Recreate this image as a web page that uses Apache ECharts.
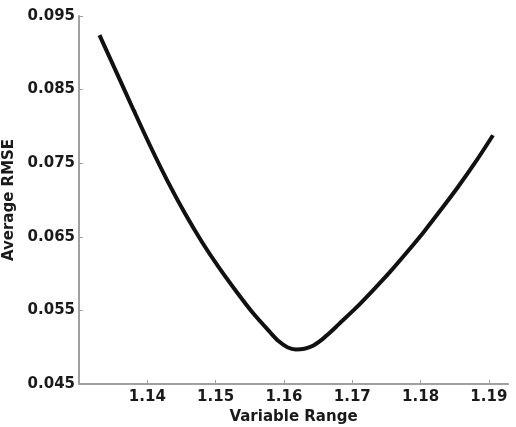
<!DOCTYPE html>
<html>
<head>
<meta charset="utf-8">
<script src="https://cdn.jsdelivr.net/npm/echarts@6/dist/echarts.min.js"></script>
<style>html,body{margin:0;padding:0;background:#fff}#c{width:516px;height:427px}</style>
</head>
<body>
<div id="c"></div>
<script>
var xValues = [1.1330, 1.1355, 1.1380, 1.1405, 1.1430, 1.1455, 1.1480, 1.1505, 1.1530, 1.1555, 1.1580, 1.15925, 1.1605, 1.16175, 1.1630, 1.16425, 1.1655, 1.16675, 1.1680, 1.1705, 1.1730, 1.1755, 1.1780, 1.1805, 1.1830, 1.1855, 1.1880, 1.1906];
var rmseValues = [0.0924, 0.0873, 0.0822, 0.0772, 0.0725, 0.0682, 0.0643, 0.0608, 0.0576, 0.0546, 0.0520, 0.0508, 0.0500, 0.0497, 0.0498, 0.0502, 0.0510, 0.0520, 0.0531, 0.0553, 0.0577, 0.0602, 0.0629, 0.0657, 0.0687, 0.0718, 0.0751, 0.0788];
var xTicks = [1.14, 1.15, 1.16, 1.17, 1.18, 1.19];
var yTicks = [0.045, 0.055, 0.065, 0.075, 0.085, 0.095];

var data = xValues.map(function (x, i) { return [x, rmseValues[i]]; });
var font = 'DejaVu Sans';
var chart = echarts.init(document.getElementById('c'));
chart.setOption({
  animation: false,
  grid: { left: 79, right: 8, top: 16, bottom: 43, outerBoundsMode: 'none', containLabel: false },
  xAxis: {
    type: 'value', min: 1.13, max: 1.1928,
    name: 'Variable Range', nameLocation: 'middle', nameGap: 20,
    nameTextStyle: { fontFamily: font, fontWeight: 'bold', fontSize: 15, color: '#1a1a1a' },
    axisLine: { lineStyle: { color: '#a0a0a0', width: 2 } },
    axisTick: { inside: true, length: 4, lineStyle: { color: '#a0a0a0' }, customValues: xTicks },
    axisLabel: { customValues: xTicks, fontFamily: font, fontWeight: 'bold', fontSize: 15, color: '#1a1a1a', margin: 6,
      formatter: function (v) { return v.toFixed(2); } },
    splitLine: { show: false }
  },
  yAxis: {
    type: 'value', min: 0.045, max: 0.095,
    name: 'Average RMSE', nameLocation: 'middle', nameGap: 49, nameRotate: 90,
    nameTextStyle: { fontFamily: font, fontWeight: 'bold', fontSize: 15, color: '#1a1a1a' },
    axisLine: { show: true, lineStyle: { color: '#a0a0a0', width: 2 } },
    axisTick: { show: true, inside: true, length: 4, lineStyle: { color: '#a0a0a0' }, customValues: yTicks },
    axisLabel: { customValues: yTicks, fontFamily: font, fontWeight: 'bold', fontSize: 15, color: '#1a1a1a', margin: 4,
      formatter: function (v) { return v.toFixed(3); } },
    splitLine: { show: false }
  },
  series: [{
    type: 'line', data: data, smooth: 0.3, showSymbol: false,
    lineStyle: { color: '#111', width: 4 }
  }]
});
</script>
</body>
</html>
